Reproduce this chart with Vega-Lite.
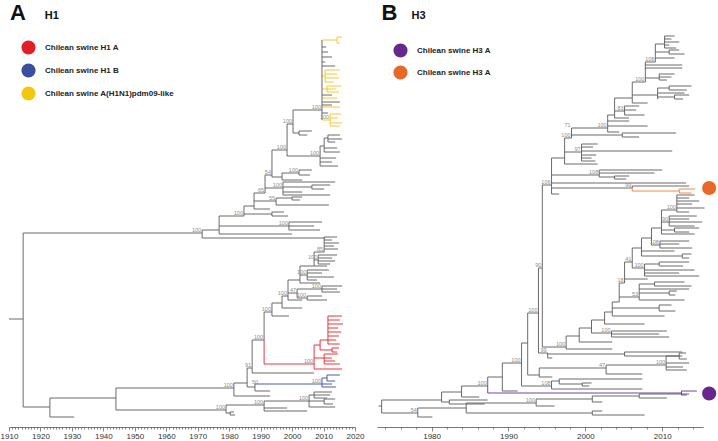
{
"$schema": "https://vega.github.io/schema/vega-lite/v6.json",
"padding": 0,
"spacing": 22,
"bounds": "flush",
"config": {"view": {"stroke": null}, "font": "Liberation Sans"},
"resolve": {"scale": {"x": "independent", "y": "independent", "stroke": "independent", "fill": "independent"}, "legend": {"fill": "independent"}},
"datasets": {
"aH": [
{"x":1910,"x2":1914.5,"y":319,"c":"g"},{"x":1914.5,"x2":1971.4,"y":233,"c":"g"},{"x":1971.4,"x2":2010.5,"y":238,"c":"g"},{"x":1971.4,"x2":1976.8,"y":230,"c":"g"},{"x":1976.8,"x2":2000.0,"y":234,"c":"g"},{"x":1976.8,"x2":1999.0,"y":226,"c":"g"},{"x":1999.0,"x2":2009.5,"y":222,"c":"g"},{"x":1999.0,"x2":2007.0,"y":226,"c":"g"},{"x":1999.0,"x2":2008.9,"y":230,"c":"g"},{"x":1976.8,"x2":1984.7,"y":216,"c":"g"},{"x":1984.7,"x2":1993.6,"y":214,"c":"g"},{"x":1993.6,"x2":1997.4,"y":212,"c":"g"},{"x":1993.6,"x2":1998.7,"y":216,"c":"g"},{"x":1984.7,"x2":1987.9,"y":206,"c":"g"},{"x":1987.9,"x2":1993.0,"y":209,"c":"g"},{"x":1987.9,"x2":1994.9,"y":201,"c":"g"},{"x":1994.9,"x2":2011.7,"y":205,"c":"g"},{"x":1994.9,"x2":2000.0,"y":198,"c":"g"},{"x":2000.0,"x2":2003.2,"y":197,"c":"g"},{"x":2000.0,"x2":2002.5,"y":200,"c":"g"},{"x":1987.9,"x2":1991.4,"y":193,"c":"g"},{"x":1991.4,"x2":1997.1,"y":188,"c":"g"},{"x":1997.1,"x2":2013.7,"y":182,"c":"g"},{"x":1997.1,"x2":2006.3,"y":187,"c":"g"},{"x":2006.3,"x2":2012.1,"y":185,"c":"g"},{"x":2006.3,"x2":2010.2,"y":189,"c":"g"},{"x":1997.1,"x2":2003.2,"y":192,"c":"g"},{"x":1997.1,"x2":2012.1,"y":195,"c":"g"},{"x":1991.4,"x2":1993.6,"y":175,"c":"g"},{"x":1993.6,"x2":1996.8,"y":177,"c":"g"},{"x":1996.8,"x2":2002.2,"y":173,"c":"g"},{"x":2002.2,"x2":2006.3,"y":170,"c":"g"},{"x":2002.2,"x2":2005.7,"y":175,"c":"g"},{"x":1996.8,"x2":2003.2,"y":180,"c":"g"},{"x":1993.6,"x2":1998.4,"y":150,"c":"g"},{"x":1998.4,"x2":2008.9,"y":156,"c":"g"},{"x":2008.9,"x2":2014.6,"y":166,"c":"g"},{"x":2008.9,"x2":2012.7,"y":162,"c":"g"},{"x":2008.9,"x2":2014.0,"y":158,"c":"g"},{"x":2008.9,"x2":2010.2,"y":146,"c":"g"},{"x":2010.2,"x2":2015.2,"y":152,"c":"g"},{"x":2010.2,"x2":2014.3,"y":148,"c":"g"},{"x":2010.2,"x2":2011.4,"y":138,"c":"g"},{"x":2011.4,"x2":2015.2,"y":135,"c":"g"},{"x":2011.4,"x2":2015.9,"y":139,"c":"g"},{"x":2011.4,"x2":2013.7,"y":142,"c":"g"},{"x":1998.4,"x2":2000.3,"y":124,"c":"g"},{"x":2000.3,"x2":2002.2,"y":133,"c":"g"},{"x":2002.2,"x2":2006.3,"y":131,"c":"g"},{"x":2002.2,"x2":2004.8,"y":135,"c":"g"},{"x":2000.3,"x2":2009.5,"y":110,"c":"g"},
{"x":2009.5,"x2":2014.3,"y":40,"c":"y"},{"x":2014.3,"x2":2015.9,"y":37,"c":"y"},{"x":2014.3,"x2":2015.2,"y":43,"c":"y"},{"x":2009.5,"x2":2010.8,"y":47,"c":"g"},{"x":2009.5,"x2":2011.4,"y":52,"c":"g"},{"x":2009.5,"x2":2012.7,"y":57,"c":"g"},{"x":2009.5,"x2":2010.5,"y":62,"c":"g"},{"x":2009.5,"x2":2013.7,"y":66,"c":"g"},{"x":2009.5,"x2":2010.5,"y":76,"c":"y"},{"x":2010.5,"x2":2015.2,"y":70,"c":"y"},{"x":2010.5,"x2":2014.3,"y":74,"c":"y"},{"x":2010.5,"x2":2014.9,"y":78,"c":"y"},{"x":2010.5,"x2":2013.3,"y":82,"c":"y"},{"x":2009.5,"x2":2011.1,"y":89,"c":"y"},{"x":2011.1,"x2":2015.6,"y":86,"c":"y"},{"x":2011.1,"x2":2014.0,"y":89,"c":"y"},{"x":2011.1,"x2":2014.9,"y":92,"c":"y"},{"x":2009.5,"x2":2012.7,"y":95,"c":"g"},{"x":2009.5,"x2":2014.3,"y":98,"c":"y"},{"x":2009.5,"x2":2015.2,"y":102,"c":"g"},{"x":2009.5,"x2":2012.7,"y":105,"c":"g"},{"x":2009.5,"x2":2015.2,"y":107,"c":"y"},{"x":2009.5,"x2":2011.4,"y":113,"c":"g"},{"x":2009.5,"x2":2012.1,"y":120,"c":"y"},{"x":2012.1,"x2":2015.6,"y":114,"c":"y"},{"x":2012.1,"x2":2014.6,"y":118,"c":"y"},{"x":2012.1,"x2":2015.9,"y":123,"c":"y"},{"x":2012.1,"x2":2015.2,"y":126,"c":"y"},
{"x":1914.5,"x2":1923.0,"y":407,"c":"g"},{"x":1923.0,"x2":1930.7,"y":417,"c":"g"},{"x":1923.0,"x2":1944.0,"y":398,"c":"g"},{"x":1944.0,"x2":1981.5,"y":388,"c":"g"},{"x":1944.0,"x2":1979.0,"y":410,"c":"g"},{"x":1979.0,"x2":1980.3,"y":413,"c":"g"},{"x":1980.3,"x2":1981.5,"y":412,"c":"g"},{"x":1980.3,"x2":1981.9,"y":415,"c":"g"},{"x":1979.0,"x2":1991.1,"y":405,"c":"g"},{"x":1991.1,"x2":2004.8,"y":411,"c":"g"},{"x":1991.1,"x2":1998.4,"y":408,"c":"g"},{"x":1991.1,"x2":2005.4,"y":401,"c":"g"},{"x":2005.4,"x2":2007.0,"y":395,"c":"g"},{"x":2007.0,"x2":2012.7,"y":392,"c":"g"},{"x":2007.0,"x2":2012.1,"y":395,"c":"g"},{"x":2007.0,"x2":2011.1,"y":398,"c":"g"},{"x":2005.4,"x2":2010.2,"y":401,"c":"g"},{"x":2010.2,"x2":2013.7,"y":399,"c":"g"},{"x":2010.2,"x2":2013.0,"y":404,"c":"g"},{"x":2005.4,"x2":2013.7,"y":407,"c":"g"},
{"x":1981.5,"x2":1993.0,"y":396,"c":"g"},{"x":1981.5,"x2":1985.7,"y":383,"c":"g"},{"x":1985.7,"x2":1988.2,"y":387,"c":"g"},{"x":1988.2,"x2":2009.5,"y":384,"c":"b"},{"x":1988.2,"x2":1993.0,"y":391,"c":"g"},{"x":2009.5,"x2":2011.1,"y":378,"c":"b"},{"x":2011.1,"x2":2015.2,"y":375,"c":"b"},{"x":2011.1,"x2":2013.7,"y":381,"c":"b"},{"x":2009.5,"x2":2012.7,"y":384,"c":"b"},{"x":2009.5,"x2":2014.0,"y":387,"c":"b"},{"x":1985.7,"x2":1987.3,"y":368,"c":"g"},{"x":1987.3,"x2":2007.0,"y":373,"c":"g"},{"x":1987.3,"x2":1991.1,"y":340,"c":"g"},
{"x":1991.1,"x2":2007.0,"y":364,"c":"r"},{"x":2007.0,"x2":2015.9,"y":369,"c":"r"},{"x":2007.0,"x2":2010.2,"y":358,"c":"r"},{"x":2010.2,"x2":2014.6,"y":354,"c":"r"},{"x":2010.2,"x2":2012.7,"y":358,"c":"r"},{"x":2010.2,"x2":2013.7,"y":361,"c":"r"},{"x":2010.2,"x2":2015.2,"y":364,"c":"r"},{"x":2007.0,"x2":2008.9,"y":345,"c":"r"},{"x":2008.9,"x2":2012.7,"y":350,"c":"r"},{"x":2012.7,"x2":2014.9,"y":348,"c":"r"},{"x":2012.7,"x2":2014.3,"y":352,"c":"r"},{"x":2008.9,"x2":2011.4,"y":340,"c":"r"},{"x":2011.4,"x2":2015.9,"y":316,"c":"r"},{"x":2011.4,"x2":2015.2,"y":320,"c":"r"},{"x":2011.4,"x2":2016.2,"y":324,"c":"r"},{"x":2011.4,"x2":2014.6,"y":328,"c":"r"},{"x":2011.4,"x2":2015.6,"y":332,"c":"r"},{"x":2011.4,"x2":2014.9,"y":336,"c":"r"},{"x":2011.4,"x2":2014.0,"y":340,"c":"r"},{"x":2011.4,"x2":2015.2,"y":344,"c":"r"},
{"x":1991.1,"x2":1993.6,"y":312,"c":"g"},{"x":1993.6,"x2":1999.0,"y":316,"c":"g"},{"x":1993.6,"x2":1996.8,"y":303,"c":"g"},{"x":1996.8,"x2":2003.2,"y":308,"c":"g"},{"x":1996.8,"x2":1998.7,"y":296,"c":"g"},{"x":1998.7,"x2":2003.2,"y":300,"c":"g"},{"x":1998.7,"x2":2001.6,"y":293,"c":"g"},{"x":2001.6,"x2":2004.8,"y":298,"c":"g"},{"x":2004.8,"x2":2009.5,"y":296,"c":"g"},{"x":2004.8,"x2":2011.1,"y":300,"c":"g"},{"x":2001.6,"x2":2009.5,"y":289,"c":"g"},{"x":2009.5,"x2":2015.9,"y":286,"c":"g"},{"x":2009.5,"x2":2014.3,"y":289,"c":"g"},{"x":2009.5,"x2":2015.2,"y":292,"c":"g"},{"x":1998.7,"x2":2002.5,"y":280,"c":"g"},{"x":2002.5,"x2":2008.9,"y":283,"c":"g"},{"x":2002.5,"x2":2004.8,"y":275,"c":"g"},{"x":2004.8,"x2":2011.7,"y":270,"c":"g"},{"x":2004.8,"x2":2009.5,"y":273,"c":"g"},{"x":2004.8,"x2":2013.3,"y":277,"c":"g"},{"x":2004.8,"x2":2007.9,"y":280,"c":"g"},{"x":2002.5,"x2":2007.0,"y":266,"c":"g"},{"x":2007.0,"x2":2011.1,"y":266,"c":"g"},{"x":2007.0,"x2":2008.3,"y":260,"c":"g"},{"x":2008.3,"x2":2014.3,"y":255,"c":"g"},{"x":2008.3,"x2":2012.7,"y":258,"c":"g"},{"x":2008.3,"x2":2013.7,"y":261,"c":"g"},{"x":2008.3,"x2":2012.1,"y":264,"c":"g"},{"x":2007.0,"x2":2010.2,"y":252,"c":"g"},{"x":2010.2,"x2":2014.3,"y":237,"c":"g"},{"x":2010.2,"x2":2012.7,"y":240,"c":"g"},{"x":2010.2,"x2":2014.9,"y":243,"c":"g"},{"x":2010.2,"x2":2013.3,"y":246,"c":"g"},{"x":2010.2,"x2":2014.6,"y":249,"c":"g"}
],
"aV": [
{"x":1914.5,"y":233,"y2":407,"c":"g"},{"x":1971.4,"y":230,"y2":238,"c":"g"},{"x":1976.8,"y":216,"y2":234,"c":"g"},{"x":1999.0,"y":222,"y2":230,"c":"g"},{"x":1984.7,"y":206,"y2":216,"c":"g"},{"x":1993.6,"y":212,"y2":216,"c":"g"},{"x":1987.9,"y":193,"y2":209,"c":"g"},{"x":1994.9,"y":198,"y2":205,"c":"g"},{"x":2000.0,"y":197,"y2":200,"c":"g"},{"x":1991.4,"y":175,"y2":193,"c":"g"},{"x":1997.1,"y":182,"y2":195,"c":"g"},{"x":2006.3,"y":185,"y2":189,"c":"g"},{"x":1993.6,"y":150,"y2":177,"c":"g"},{"x":1996.8,"y":173,"y2":180,"c":"g"},{"x":2002.2,"y":170,"y2":175,"c":"g"},{"x":1998.4,"y":124,"y2":156,"c":"g"},{"x":2008.9,"y":146,"y2":166,"c":"g"},{"x":2010.2,"y":138,"y2":152,"c":"g"},{"x":2011.4,"y":135,"y2":142,"c":"g"},{"x":2000.3,"y":110,"y2":133,"c":"g"},{"x":2002.2,"y":131,"y2":135,"c":"g"},{"x":2009.5,"y":40,"y2":120,"c":"g"},{"x":2014.3,"y":37,"y2":43,"c":"y"},{"x":2010.5,"y":70,"y2":82,"c":"y"},{"x":2011.1,"y":86,"y2":92,"c":"y"},{"x":2012.1,"y":114,"y2":126,"c":"y"},
{"x":1923.0,"y":398,"y2":417,"c":"g"},{"x":1944.0,"y":388,"y2":410,"c":"g"},{"x":1979.0,"y":405,"y2":413,"c":"g"},{"x":1980.3,"y":412,"y2":415,"c":"g"},{"x":1991.1,"y":401,"y2":411,"c":"g"},{"x":2005.4,"y":395,"y2":407,"c":"g"},{"x":2007.0,"y":392,"y2":398,"c":"g"},{"x":2010.2,"y":399,"y2":404,"c":"g"},{"x":1981.5,"y":383,"y2":396,"c":"g"},{"x":1985.7,"y":368,"y2":387,"c":"g"},{"x":1988.2,"y":384,"y2":391,"c":"g"},{"x":2009.5,"y":378,"y2":387,"c":"b"},{"x":2011.1,"y":375,"y2":381,"c":"b"},{"x":1987.3,"y":340,"y2":373,"c":"g"},{"x":1991.1,"y":312,"y2":340,"c":"g"},{"x":1991.1,"y":340,"y2":364,"c":"r"},{"x":2007.0,"y":345,"y2":369,"c":"r"},{"x":2010.2,"y":354,"y2":364,"c":"r"},{"x":2008.9,"y":340,"y2":350,"c":"r"},{"x":2012.7,"y":348,"y2":352,"c":"r"},{"x":2011.4,"y":316,"y2":344,"c":"r"},{"x":1993.6,"y":303,"y2":316,"c":"g"},{"x":1996.8,"y":296,"y2":308,"c":"g"},{"x":1998.7,"y":280,"y2":300,"c":"g"},{"x":2001.6,"y":289,"y2":298,"c":"g"},{"x":2004.8,"y":296,"y2":300,"c":"g"},{"x":2009.5,"y":286,"y2":292,"c":"g"},{"x":2002.5,"y":266,"y2":283,"c":"g"},{"x":2004.8,"y":270,"y2":280,"c":"g"},{"x":2007.0,"y":252,"y2":266,"c":"g"},{"x":2008.3,"y":255,"y2":264,"c":"g"},{"x":2010.2,"y":237,"y2":252,"c":"g"}
],
"aL": [
{"x":1971.4,"y":233,"t":"100"},{"x":1984.7,"y":216,"t":"100"},{"x":1999.0,"y":226,"t":"100"},{"x":1994.9,"y":201,"t":"55"},{"x":1991.4,"y":193,"t":"65"},{"x":1997.1,"y":188,"t":"100"},{"x":1993.6,"y":175,"t":"54"},{"x":2002.2,"y":173,"t":"100"},{"x":1998.4,"y":150,"t":"100"},{"x":2008.9,"y":156,"t":"100"},{"x":2009.5,"y":110,"t":"100"},{"x":2000.3,"y":124,"t":"100"},{"x":2012.1,"y":120,"t":"100"},{"x":1981.5,"y":388,"t":"100"},{"x":1979.0,"y":410,"t":"100"},{"x":1991.1,"y":405,"t":"100"},{"x":2005.4,"y":401,"t":"100"},{"x":1987.3,"y":368,"t":"91"},{"x":1989.5,"y":385,"t":"50"},{"x":1991.1,"y":340,"t":"100"},{"x":2007.0,"y":364,"t":"100"},{"x":2009.5,"y":384,"t":"100"},{"x":1993.6,"y":312,"t":"100"},{"x":1998.7,"y":296,"t":"100"},{"x":2001.6,"y":293,"t":"47"},{"x":2004.8,"y":298,"t":"100"},{"x":2009.5,"y":289,"t":"100"},{"x":2004.8,"y":275,"t":"100"},{"x":2008.3,"y":260,"t":"100"},{"x":2010.2,"y":252,"t":"85"}
],
"bH": [
{"x":1973.1,"x2":1973.5,"y":406,"c":"g"},{"x":1973.5,"x2":1981.3,"y":400,"c":"g"},{"x":1973.5,"x2":1978.2,"y":413,"c":"g"},{"x":1978.2,"x2":1980.1,"y":417,"c":"g"},{"x":1978.2,"x2":1984.5,"y":408,"c":"g"},{"x":1984.5,"x2":2000.9,"y":413,"c":"g"},{"x":2000.9,"x2":2002.2,"y":411,"c":"g"},{"x":2000.9,"x2":2007.7,"y":415,"c":"g"},{"x":1984.5,"x2":1993.6,"y":403,"c":"g"},{"x":1993.6,"x2":2000.9,"y":399,"c":"g"},{"x":2000.9,"x2":2007.0,"y":396,"c":"g"},{"x":2007.0,"x2":2013.5,"y":394,"c":"g"},{"x":2007.0,"x2":2010.6,"y":398,"c":"g"},{"x":2000.9,"x2":2002.2,"y":402,"c":"g"},{"x":1993.6,"x2":1996.0,"y":406,"c":"g"},{"x":1981.3,"x2":1982.3,"y":402,"c":"g"},{"x":1982.3,"x2":1987.3,"y":400,"c":"g"},{"x":1982.3,"x2":1986.9,"y":404,"c":"g"},{"x":1981.3,"x2":1983.9,"y":392,"c":"g"},{"x":1983.9,"x2":1986.2,"y":397,"c":"g"},{"x":1983.9,"x2":1987.3,"y":386,"c":"g"},{"x":1987.3,"x2":2012.5,"y":393,"c":"p"},{"x":2012.5,"x2":2014.5,"y":391,"c":"p"},{"x":2012.5,"x2":2013.2,"y":395,"c":"p"},{"x":1987.3,"x2":1989.2,"y":377,"c":"g"},{"x":1989.2,"x2":1991.2,"y":391,"c":"g"},{"x":1989.2,"x2":1991.7,"y":363,"c":"g"},{"x":1991.7,"x2":1995.6,"y":386,"c":"g"},{"x":1995.6,"x2":1996.6,"y":381,"c":"g"},{"x":1996.6,"x2":2007.4,"y":379,"c":"g"},{"x":1996.6,"x2":1999.6,"y":384,"c":"g"},{"x":1999.6,"x2":2000.8,"y":383,"c":"g"},{"x":1999.6,"x2":2000.5,"y":386,"c":"g"},{"x":1995.6,"x2":2007.4,"y":389,"c":"g"},{"x":1991.7,"x2":1992.5,"y":343,"c":"g"},{"x":1992.5,"x2":1994.0,"y":375,"c":"g"},{"x":1994.0,"x2":1995.7,"y":377,"c":"g"},{"x":1994.0,"x2":2002.7,"y":368,"c":"g"},{"x":2002.7,"x2":2007.4,"y":374,"c":"g"},{"x":2002.7,"x2":2010.5,"y":365,"c":"g"},{"x":2010.5,"x2":2012.2,"y":356,"c":"g"},{"x":2012.2,"x2":2013.1,"y":353,"c":"g"},{"x":2012.2,"x2":2013.2,"y":359,"c":"g"},{"x":2010.5,"x2":2013.5,"y":363,"c":"g"},{"x":2010.5,"x2":2012.7,"y":367,"c":"g"},{"x":2010.5,"x2":2013.2,"y":370,"c":"g"},{"x":1992.5,"x2":1993.9,"y":313,"c":"g"},{"x":1993.9,"x2":1995.1,"y":353,"c":"g"},{"x":1995.1,"x2":2005.1,"y":354,"c":"g"},{"x":2005.1,"x2":2012.6,"y":352,"c":"g"},{"x":2005.1,"x2":2012.6,"y":356,"c":"g"},{"x":1995.1,"x2":1995.7,"y":358,"c":"g"},{"x":1993.9,"x2":1994.4,"y":268,"c":"g"},{"x":1994.4,"x2":1997.5,"y":347,"c":"g"},{"x":1994.4,"x2":1995.6,"y":185,"c":"g"},
{"x":1997.5,"x2":2003.5,"y":349,"c":"g"},{"x":1997.5,"x2":1999.2,"y":336,"c":"g"},{"x":1999.2,"x2":2003.5,"y":342,"c":"g"},{"x":1999.2,"x2":2000.8,"y":328,"c":"g"},{"x":2000.8,"x2":2003.4,"y":333,"c":"g"},{"x":2003.4,"x2":2010.6,"y":331,"c":"g"},{"x":2003.4,"x2":2009.6,"y":334,"c":"g"},{"x":2003.4,"x2":2010.9,"y":337,"c":"g"},{"x":2000.8,"x2":2002.5,"y":320,"c":"g"},{"x":2002.5,"x2":2007.7,"y":324,"c":"g"},{"x":2002.5,"x2":2003.5,"y":312,"c":"g"},{"x":2003.5,"x2":2010.3,"y":316,"c":"g"},{"x":2003.5,"x2":2009.6,"y":308,"c":"g"},{"x":2009.6,"x2":2011.2,"y":305,"c":"g"},{"x":2009.6,"x2":2011.7,"y":311,"c":"g"},{"x":2003.5,"x2":2004.4,"y":302,"c":"g"},{"x":2004.4,"x2":2007.0,"y":297,"c":"g"},{"x":2004.4,"x2":2005.1,"y":283,"c":"g"},{"x":2007.0,"x2":2009.0,"y":284,"c":"g"},{"x":2009.0,"x2":2012.9,"y":282,"c":"g"},{"x":2009.0,"x2":2013.8,"y":286,"c":"g"},{"x":2007.0,"x2":2013.5,"y":289,"c":"g"},{"x":2007.0,"x2":2010.9,"y":293,"c":"g"},{"x":2010.9,"x2":2011.9,"y":291,"c":"g"},{"x":2010.9,"x2":2011.7,"y":295,"c":"g"},{"x":2007.0,"x2":2012.9,"y":300,"c":"g"},{"x":2005.1,"x2":2008.1,"y":279,"c":"g"},{"x":2005.1,"x2":2006.1,"y":262,"c":"g"},{"x":2006.1,"x2":2007.7,"y":268,"c":"g"},{"x":2006.1,"x2":2007.3,"y":248,"c":"g"},{"x":2007.7,"x2":2009.6,"y":264,"c":"g"},{"x":2009.6,"x2":2013.5,"y":262,"c":"g"},{"x":2009.6,"x2":2012.7,"y":266,"c":"g"},{"x":2007.7,"x2":2014.2,"y":270,"c":"g"},{"x":2007.7,"x2":2012.2,"y":273,"c":"g"},{"x":2007.7,"x2":2014.8,"y":276,"c":"g"},{"x":2007.3,"x2":2012.6,"y":256,"c":"g"},{"x":2012.6,"x2":2013.8,"y":254,"c":"g"},{"x":2012.6,"x2":2013.5,"y":258,"c":"g"},{"x":2007.3,"x2":2011.6,"y":251,"c":"g"},{"x":2007.3,"x2":2008.6,"y":238,"c":"g"},{"x":2008.6,"x2":2009.7,"y":245,"c":"g"},{"x":2009.7,"x2":2013.5,"y":241,"c":"g"},{"x":2009.7,"x2":2012.2,"y":244,"c":"g"},{"x":2009.7,"x2":2013.9,"y":248,"c":"g"},{"x":2008.6,"x2":2009.9,"y":228,"c":"g"},{"x":2009.9,"x2":2014.2,"y":234,"c":"g"},{"x":2009.9,"x2":2011.6,"y":230,"c":"g"},{"x":2011.6,"x2":2014.8,"y":228,"c":"g"},{"x":2011.6,"x2":2013.5,"y":232,"c":"g"},{"x":2009.9,"x2":2010.9,"y":222,"c":"g"},{"x":2010.9,"x2":2014.5,"y":216,"c":"g"},{"x":2010.9,"x2":2013.5,"y":219,"c":"g"},{"x":2010.9,"x2":2015.2,"y":222,"c":"g"},{"x":2010.9,"x2":2014.2,"y":226,"c":"g"},{"x":2009.9,"x2":2011.9,"y":210,"c":"g"},{"x":2011.9,"x2":2014.2,"y":195,"c":"g"},{"x":2011.9,"x2":2013.5,"y":198,"c":"g"},{"x":2011.9,"x2":2014.8,"y":201,"c":"g"},{"x":2011.9,"x2":2013.9,"y":204,"c":"g"},{"x":2011.9,"x2":2015.5,"y":208,"c":"g"},{"x":2011.9,"x2":2013.5,"y":212,"c":"g"},
{"x":1995.6,"x2":1996.6,"y":194,"c":"g"},{"x":1995.6,"x2":2006.1,"y":188,"c":"g"},{"x":1995.6,"x2":2013.1,"y":183,"c":"g"},{"x":1995.6,"x2":2001.8,"y":175,"c":"g"},{"x":1995.6,"x2":1997.3,"y":158,"c":"g"},{"x":2006.1,"x2":2013.5,"y":186,"c":"g"},{"x":2006.1,"x2":2012.2,"y":191,"c":"o"},{"x":2012.2,"x2":2014.3,"y":189,"c":"o"},{"x":2012.2,"x2":2013.8,"y":193,"c":"o"},{"x":2001.8,"x2":2010.0,"y":170,"c":"g"},{"x":2001.8,"x2":2009.0,"y":173,"c":"g"},{"x":2001.8,"x2":2003.8,"y":177,"c":"g"},{"x":2003.8,"x2":2005.7,"y":176,"c":"g"},{"x":2003.8,"x2":2005.3,"y":179,"c":"g"},{"x":1997.3,"x2":2001.6,"y":164,"c":"g"},{"x":1997.3,"x2":1999.5,"y":152,"c":"g"},{"x":1997.3,"x2":1998.2,"y":138,"c":"g"},{"x":1999.5,"x2":2001.6,"y":144,"c":"g"},{"x":1999.5,"x2":2001.0,"y":147,"c":"g"},{"x":1999.5,"x2":2011.3,"y":151,"c":"g"},{"x":1999.5,"x2":2001.4,"y":155,"c":"g"},{"x":1999.5,"x2":2000.8,"y":158,"c":"g"},{"x":1999.5,"x2":2001.3,"y":161,"c":"g"},{"x":1998.2,"x2":2004.8,"y":135,"c":"g"},{"x":2004.8,"x2":2011.8,"y":133,"c":"g"},{"x":2004.8,"x2":2007.0,"y":137,"c":"g"},{"x":1998.2,"x2":2002.9,"y":128,"c":"g"},
{"x":2002.9,"x2":2004.4,"y":132,"c":"g"},{"x":2002.9,"x2":2008.1,"y":126,"c":"g"},{"x":2002.9,"x2":2005.7,"y":121,"c":"g"},{"x":2002.9,"x2":2003.8,"y":115,"c":"g"},{"x":2003.8,"x2":2005.7,"y":118,"c":"g"},{"x":2003.8,"x2":2005.1,"y":111,"c":"g"},{"x":2003.8,"x2":2006.1,"y":98,"c":"g"},{"x":2005.1,"x2":2007.0,"y":106,"c":"g"},{"x":2005.1,"x2":2006.6,"y":110,"c":"g"},{"x":2005.1,"x2":2007.7,"y":115,"c":"g"},{"x":2006.1,"x2":2008.1,"y":103,"c":"g"},{"x":2006.1,"x2":2009.4,"y":95,"c":"g"},{"x":2006.1,"x2":2007.8,"y":82,"c":"g"},{"x":2009.4,"x2":2010.9,"y":88,"c":"g"},{"x":2010.9,"x2":2013.8,"y":86,"c":"g"},{"x":2010.9,"x2":2013.2,"y":90,"c":"g"},{"x":2009.4,"x2":2012.9,"y":93,"c":"g"},{"x":2009.4,"x2":2011.6,"y":97,"c":"g"},{"x":2011.6,"x2":2013.5,"y":95,"c":"g"},{"x":2011.6,"x2":2012.7,"y":99,"c":"g"},{"x":2007.8,"x2":2009.6,"y":78,"c":"g"},{"x":2009.6,"x2":2011.6,"y":74,"c":"g"},{"x":2009.6,"x2":2011.2,"y":77,"c":"g"},{"x":2009.6,"x2":2010.6,"y":80,"c":"g"},{"x":2007.8,"x2":2012.6,"y":68,"c":"g"},{"x":2007.8,"x2":2012.6,"y":65,"c":"g"},{"x":2007.8,"x2":2009.1,"y":62,"c":"g"},{"x":2009.1,"x2":2010.3,"y":44,"c":"g"},{"x":2010.3,"x2":2011.6,"y":36,"c":"g"},{"x":2010.3,"x2":2011.2,"y":39,"c":"g"},{"x":2010.3,"x2":2012.2,"y":42,"c":"g"},{"x":2010.3,"x2":2010.9,"y":45,"c":"g"},{"x":2010.3,"x2":2011.8,"y":48,"c":"g"},{"x":2009.1,"x2":2010.9,"y":52,"c":"g"},{"x":2010.9,"x2":2012.2,"y":50,"c":"g"},{"x":2010.9,"x2":2012.9,"y":54,"c":"g"},{"x":2009.1,"x2":2011.6,"y":58,"c":"g"}
],
"bV": [
{"x":1973.5,"y":400,"y2":413,"c":"g"},{"x":1978.2,"y":408,"y2":417,"c":"g"},{"x":1984.5,"y":403,"y2":413,"c":"g"},{"x":2000.9,"y":411,"y2":415,"c":"g"},{"x":1993.6,"y":399,"y2":406,"c":"g"},{"x":2000.9,"y":396,"y2":402,"c":"g"},{"x":2007.0,"y":394,"y2":398,"c":"g"},{"x":1981.3,"y":392,"y2":402,"c":"g"},{"x":1982.3,"y":400,"y2":404,"c":"g"},{"x":1983.9,"y":386,"y2":397,"c":"g"},{"x":1987.3,"y":377,"y2":386,"c":"g"},{"x":1987.3,"y":386,"y2":393,"c":"p"},{"x":2012.5,"y":391,"y2":395,"c":"p"},{"x":1989.2,"y":363,"y2":391,"c":"g"},{"x":1991.7,"y":343,"y2":386,"c":"g"},{"x":1995.6,"y":381,"y2":389,"c":"g"},{"x":1996.6,"y":379,"y2":384,"c":"g"},{"x":1999.6,"y":383,"y2":386,"c":"g"},{"x":1992.5,"y":313,"y2":375,"c":"g"},{"x":1994.0,"y":368,"y2":377,"c":"g"},{"x":2002.7,"y":365,"y2":374,"c":"g"},{"x":2010.5,"y":356,"y2":370,"c":"g"},{"x":2012.2,"y":353,"y2":359,"c":"g"},{"x":1993.9,"y":268,"y2":353,"c":"g"},{"x":1995.1,"y":353,"y2":358,"c":"g"},{"x":2005.1,"y":352,"y2":356,"c":"g"},{"x":1994.4,"y":185,"y2":347,"c":"g"},
{"x":1997.5,"y":336,"y2":349,"c":"g"},{"x":1999.2,"y":328,"y2":342,"c":"g"},{"x":2000.8,"y":320,"y2":333,"c":"g"},{"x":2003.4,"y":331,"y2":337,"c":"g"},{"x":2002.5,"y":312,"y2":324,"c":"g"},{"x":2003.5,"y":302,"y2":316,"c":"g"},{"x":2009.6,"y":305,"y2":311,"c":"g"},{"x":2004.4,"y":283,"y2":302,"c":"g"},{"x":2007.0,"y":284,"y2":300,"c":"g"},{"x":2009.0,"y":282,"y2":286,"c":"g"},{"x":2010.9,"y":291,"y2":295,"c":"g"},{"x":2005.1,"y":262,"y2":283,"c":"g"},{"x":2006.1,"y":248,"y2":268,"c":"g"},{"x":2007.7,"y":264,"y2":276,"c":"g"},{"x":2009.6,"y":262,"y2":266,"c":"g"},{"x":2007.3,"y":238,"y2":256,"c":"g"},{"x":2012.6,"y":254,"y2":258,"c":"g"},{"x":2008.6,"y":228,"y2":245,"c":"g"},{"x":2009.7,"y":241,"y2":248,"c":"g"},{"x":2009.9,"y":210,"y2":234,"c":"g"},{"x":2011.6,"y":228,"y2":232,"c":"g"},{"x":2010.9,"y":216,"y2":226,"c":"g"},{"x":2011.9,"y":195,"y2":212,"c":"g"},
{"x":1995.6,"y":158,"y2":194,"c":"g"},{"x":2006.1,"y":186,"y2":188,"c":"g"},{"x":2006.1,"y":188,"y2":191,"c":"o"},{"x":2012.2,"y":189,"y2":193,"c":"o"},{"x":2001.8,"y":170,"y2":177,"c":"g"},{"x":2003.8,"y":176,"y2":179,"c":"g"},{"x":1997.3,"y":138,"y2":164,"c":"g"},{"x":1999.5,"y":144,"y2":161,"c":"g"},{"x":1998.2,"y":128,"y2":138,"c":"g"},{"x":2004.8,"y":133,"y2":137,"c":"g"},
{"x":2002.9,"y":115,"y2":132,"c":"g"},{"x":2003.8,"y":98,"y2":118,"c":"g"},{"x":2005.1,"y":106,"y2":115,"c":"g"},{"x":2006.1,"y":82,"y2":103,"c":"g"},{"x":2009.4,"y":88,"y2":99,"c":"g"},{"x":2010.9,"y":86,"y2":90,"c":"g"},{"x":2011.6,"y":95,"y2":99,"c":"g"},{"x":2007.8,"y":62,"y2":82,"c":"g"},{"x":2009.6,"y":74,"y2":80,"c":"g"},{"x":2009.1,"y":44,"y2":62,"c":"g"},{"x":2010.3,"y":36,"y2":48,"c":"g"},{"x":2010.9,"y":50,"y2":54,"c":"g"}
],
"bL": [
{"x":1978.2,"y":413,"t":"54"},{"x":1987.3,"y":386,"t":"100"},{"x":1991.7,"y":363,"t":"100"},{"x":1995.6,"y":386,"t":"108"},{"x":1993.9,"y":313,"t":"100"},{"x":2002.7,"y":368,"t":"47"},{"x":2010.5,"y":365,"t":"100"},{"x":1995.1,"y":353,"t":"99"},{"x":1994.4,"y":268,"t":"90"},{"x":1997.5,"y":347,"t":"100"},{"x":1995.6,"y":185,"t":"106"},{"x":2006.1,"y":188,"t":"99"},{"x":2001.8,"y":175,"t":"108"},{"x":1999.5,"y":152,"t":"97"},{"x":1998.2,"y":138,"t":"100"},{"x":1998.2,"y":128,"t":"71"},{"x":2002.9,"y":128,"t":"100"},{"x":2005.1,"y":111,"t":"83"},{"x":2007.8,"y":82,"t":"100"},{"x":2009.1,"y":62,"t":"108"},{"x":2007.0,"y":297,"t":"53"},{"x":2005.1,"y":283,"t":"18"},{"x":2006.1,"y":262,"t":"41"},{"x":2007.7,"y":268,"t":"100"},{"x":2009.7,"y":245,"t":"108"},{"x":2010.9,"y":222,"t":"90"},{"x":2011.9,"y":210,"t":"100"},{"x":2003.4,"y":333,"t":"100"},{"x":1993.6,"y":403,"t":"100"}
]
},
"hconcat": [
{
"width": 346, "height": 427,
"layer": [
{"data": {"name": "aH"}, "mark": {"type": "rule", "strokeWidth": 0.9},
 "encoding": {
  "x": {"field": "x", "type": "quantitative", "scale": {"domain": [1910, 2020], "nice": false, "zero": false},
   "axis": {"title": null, "grid": false, "tickCount": 500, "values": [1910,1911,1912,1913,1914,1915,1916,1917,1918,1919,1920,1921,1922,1923,1924,1925,1926,1927,1928,1929,1930,1931,1932,1933,1934,1935,1936,1937,1938,1939,1940,1941,1942,1943,1944,1945,1946,1947,1948,1949,1950,1951,1952,1953,1954,1955,1956,1957,1958,1959,1960,1961,1962,1963,1964,1965,1966,1967,1968,1969,1970,1971,1972,1973,1974,1975,1976,1977,1978,1979,1980,1981,1982,1983,1984,1985,1986,1987,1988,1989,1990,1991,1992,1993,1994,1995,1996,1997,1998,1999,2000,2001,2002,2003,2004,2005,2006,2007,2008,2009,2010,2011,2012,2013,2014,2015,2016,2017,2018,2019,2020],
    "format": "d", "labelExpr": "datum.value % 10 === 0 ? datum.label : ''", "labelOverlap": false, "labelFlush": false,
    "tickSize": {"condition": {"test": "datum.value % 10 === 0", "value": 4}, "value": 2},
    "tickColor": "#555", "tickWidth": 0.7, "domainColor": "#555", "domainWidth": 0.8,
    "labelFontSize": 8, "labelColor": "#333", "labelPadding": 1}},
  "x2": {"field": "x2"},
  "y": {"field": "y", "type": "quantitative", "scale": {"domain": [0, 427], "reverse": true, "nice": false, "zero": false}, "axis": null},
  "stroke": {"field": "c", "type": "nominal", "scale": {"domain": ["g", "r", "b", "y"], "range": ["#5a5a5a", "#e3232a", "#3a4b9e", "#f3c316"]}, "legend": null}
 }},
{"data": {"name": "aV"}, "mark": {"type": "rule", "strokeWidth": 0.9},
 "encoding": {
  "x": {"field": "x", "type": "quantitative"},
  "y": {"field": "y", "type": "quantitative"}, "y2": {"field": "y2"},
  "stroke": {"field": "c", "type": "nominal", "legend": null}
 }},
{"data": {"name": "aL"}, "mark": {"type": "text", "align": "right", "baseline": "bottom", "dx": -1, "dy": -0.5, "fontSize": 5.5, "color": "#8c8c8c"},
 "encoding": {"x": {"field": "x", "type": "quantitative"}, "y": {"field": "y", "type": "quantitative"}, "text": {"field": "t"}}},
{"data": {"values": [{"x": 1910.3, "y": 20.2, "t": "A"}]}, "mark": {"type": "text", "align": "left", "baseline": "alphabetic", "fontSize": 22, "fontWeight": "bold", "color": "#111"},
 "encoding": {"x": {"field": "x", "type": "quantitative"}, "y": {"field": "y", "type": "quantitative"}, "text": {"field": "t"}}},
{"data": {"values": [{"x": 1921.4, "y": 19, "t": "H1"}]}, "mark": {"type": "text", "align": "left", "baseline": "alphabetic", "fontSize": 11, "fontWeight": "bold", "color": "#111"},
 "encoding": {"x": {"field": "x", "type": "quantitative"}, "y": {"field": "y", "type": "quantitative"}, "text": {"field": "t"}}},
{"data": {"values": [{"k": "Chilean swine H1 A"}, {"k": "Chilean swine H1 B"}, {"k": "Chilean swine A(H1N1)pdm09-like"}]},
 "mark": {"type": "point", "filled": true, "shape": "circle", "size": 200, "opacity": 1},
 "encoding": {"x": {"field": "x", "type": "quantitative"}, "y": {"field": "y", "type": "quantitative"},
  "fill": {"field": "k", "type": "nominal", "scale": {"domain": ["Chilean swine H1 A", "Chilean swine H1 B", "Chilean swine A(H1N1)pdm09-like"], "range": ["#df2027", "#3b4ea0", "#f4c70f"]},
   "legend": {"orient": "none", "legendX": 12, "legendY": 40, "title": null, "symbolType": "circle", "symbolSize": 200, "symbolStrokeWidth": 0, "labelFontSize": 8, "labelFontWeight": "bold", "labelColor": "#222", "labelOffset": 9, "rowPadding": 8, "padding": 0, "labelLimit": 300}}}}
]
},
{
"width": 326, "height": 427,
"layer": [
{"data": {"name": "bH"}, "mark": {"type": "rule", "strokeWidth": 0.9},
 "encoding": {
  "x": {"field": "x", "type": "quantitative", "scale": {"domain": [1972.9, 2015.3], "nice": false, "zero": false},
   "axis": {"title": null, "grid": false, "tickCount": 500, "values": [1974,1976,1978,1980,1982,1984,1986,1988,1990,1992,1994,1996,1998,2000,2002,2004,2006,2008,2010,2012,2014],
    "format": "d", "labelExpr": "datum.value % 10 === 0 ? datum.label : ''", "labelOverlap": false, "labelFlush": false,
    "tickSize": {"condition": {"test": "datum.value % 10 === 0", "value": 4}, "value": 2},
    "tickColor": "#555", "tickWidth": 0.7, "domainColor": "#555", "domainWidth": 0.8,
    "labelFontSize": 8, "labelColor": "#333", "labelPadding": 1}},
  "x2": {"field": "x2"},
  "y": {"field": "y", "type": "quantitative", "scale": {"domain": [0, 427], "reverse": true, "nice": false, "zero": false}, "axis": null},
  "stroke": {"field": "c", "type": "nominal", "scale": {"domain": ["g", "p", "o"], "range": ["#5a5a5a", "#6b2b8f", "#ec7a3a"]}, "legend": null}
 }},
{"data": {"name": "bV"}, "mark": {"type": "rule", "strokeWidth": 0.9},
 "encoding": {
  "x": {"field": "x", "type": "quantitative"},
  "y": {"field": "y", "type": "quantitative"}, "y2": {"field": "y2"},
  "stroke": {"field": "c", "type": "nominal", "legend": null}
 }},
{"data": {"name": "bL"}, "mark": {"type": "text", "align": "right", "baseline": "bottom", "dx": -1, "dy": -0.5, "fontSize": 5.5, "color": "#8c8c8c"},
 "encoding": {"x": {"field": "x", "type": "quantitative"}, "y": {"field": "y", "type": "quantitative"}, "text": {"field": "t"}}},
{"data": {"values": [{"x": 1973.5, "y": 20.2, "t": "B"}]}, "mark": {"type": "text", "align": "left", "baseline": "alphabetic", "fontSize": 22, "fontWeight": "bold", "color": "#111"},
 "encoding": {"x": {"field": "x", "type": "quantitative"}, "y": {"field": "y", "type": "quantitative"}, "text": {"field": "t"}}},
{"data": {"values": [{"x": 1977.4, "y": 19, "t": "H3"}]}, "mark": {"type": "text", "align": "left", "baseline": "alphabetic", "fontSize": 11, "fontWeight": "bold", "color": "#111"},
 "encoding": {"x": {"field": "x", "type": "quantitative"}, "y": {"field": "y", "type": "quantitative"}, "text": {"field": "t"}}},
{"data": {"values": [{"k": "H3A-o", "x": 2016.1, "y": 188}, {"k": "H3A-p", "x": 2016.1, "y": 393.5}]},
 "mark": {"type": "point", "filled": true, "shape": "circle", "size": 200, "opacity": 1},
 "encoding": {"x": {"field": "x", "type": "quantitative"}, "y": {"field": "y", "type": "quantitative"},
  "fill": {"field": "k", "type": "nominal", "scale": {"domain": ["H3A-p", "H3A-o"], "range": ["#67278c", "#e8682a"]},
   "legend": {"orient": "none", "legendX": 16, "legendY": 43, "title": null, "symbolType": "circle", "symbolSize": 200, "symbolStrokeWidth": 0, "labelFontSize": 8, "labelFontWeight": "bold", "labelColor": "#222", "labelOffset": 9, "rowPadding": 7, "padding": 0, "labelExpr": "'Chilean swine H3 A'"}}}}
]
}
]
}
